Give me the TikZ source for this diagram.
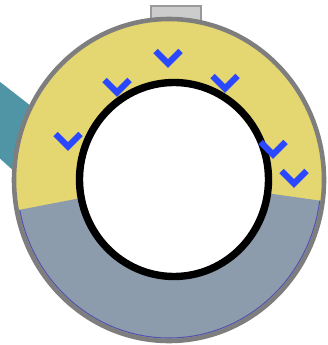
\documentclass[tikz,border=0pt]{standalone}
\usepackage{tikz}
\definecolor{ringyellow}{HTML}{E4D670}
\definecolor{ringgray}{HTML}{8D9CAC}
\definecolor{rimgray}{HTML}{7E7E7E}
\definecolor{tealband}{HTML}{4F95A5}
\definecolor{chevblue}{HTML}{2A48FF}
\begin{document}
\begin{tikzpicture}[x=0.05cm, y=-0.05cm,
  rim/.style={draw=rimgray, line width=6.5pt},
  bore/.style={draw=black, fill=white, line width=10.5pt},
  chev/.style={draw=chevblue, line width=9pt, line join=miter}]
\useasboundingbox (0,0) rectangle (327,345);
\clip (0,0) rectangle (327,345);
% ---------------- band entering from the left ----------------
\fill[tealband] (-5,78) -- (90,152) -- (90,240) -- (-5,154) -- cycle;
% ---------------- tab on top ----------------
\fill[gray!40, draw=gray!80, line width=3pt] (151,6) rectangle (201,30);
% ---------------- outer ring ----------------
\fill[ringyellow] (169,180) ellipse [x radius=155, y radius=161];
\begin{scope}
  \clip (169,180) ellipse [x radius=155, y radius=161];
  \fill[ringgray] (174,180) -- (-121,237) -- (-121,400) -- (471,400)
    -- (471,222) -- cycle;
  \clip (174,180) -- (-121,237) -- (-121,400) -- (471,400)
    -- (471,222) -- cycle;
  \draw[blue!35!gray, line width=1.5pt]
    (169,180) ellipse [x radius=152, y radius=158];
\end{scope}
\draw[rim] (169,180) ellipse [x radius=155, y radius=161];
% ---------------- bore ----------------
\draw[bore] (174,179.5) ellipse [x radius=94.5, y radius=97];
% ---------------- chevrons ----------------
\foreach \cx/\cy in {168/57, 117/86, 225/82, 68/140, 273/148, 294/177}{
  \draw[chev] (\cx-12.5,\cy-6) -- (\cx,\cy+6.5) -- (\cx+12.5,\cy-6);}
\end{tikzpicture}
\end{document}
